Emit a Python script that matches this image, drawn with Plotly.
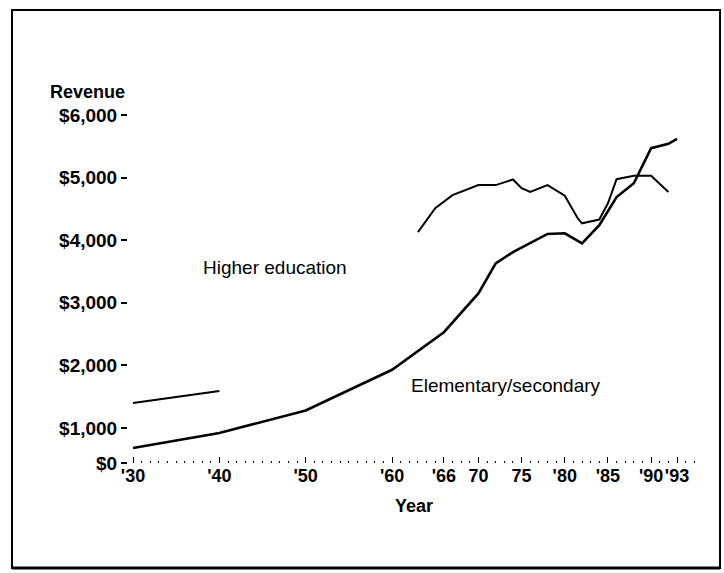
import plotly.graph_objects as go

# Elementary/secondary revenue per student (constant dollars)
es_years = [1930, 1940, 1950, 1960, 1966, 1970, 1972, 1974, 1978, 1980, 1982, 1984, 1986, 1988, 1990, 1992, 1993]
es_values = [680, 920, 1280, 1930, 2530, 3150, 3630, 3810, 4100, 4110, 3950, 4240, 4690, 4910, 5470, 5540, 5620]

# Higher education revenue per student (constant dollars); gap 1940-1963
he_years = [1930, 1940, None, 1963, 1965, 1967, 1970, 1972, 1974, 1975, 1976, 1978, 1980, 1981.5, 1982, 1984, 1985, 1986, 1988, 1990, 1992]
he_values = [1400, 1590, None, 4130, 4510, 4720, 4880, 4880, 4970, 4830, 4770, 4880, 4710, 4350, 4270, 4330, 4590, 4975, 5030, 5030, 4770]

x_tickvals = [1930, 1940, 1950, 1960, 1966, 1970, 1975, 1980, 1985, 1990, 1993]
x_ticktext = ["'30", "'40", "'50", "'60", "'66", "70", "75", "'80", "'85", "'90", "'93"]

# value axis is broken in the source: "$0" sits at the bottom of the plotted range
y_min = 441
y_tickvals = [y_min, 1000, 2000, 3000, 4000, 5000, 6000]
y_ticktext = ["$0", "$1,000", "$2,000", "$3,000", "$4,000", "$5,000", "$6,000"]

FONT = "Liberation Sans"

fig = go.Figure()
fig.add_trace(go.Scatter(x=he_years, y=he_values, mode="lines",
                         line=dict(color="black", width=2), connectgaps=False,
                         name="Higher education", showlegend=False))
fig.add_trace(go.Scatter(x=es_years, y=es_values, mode="lines",
                         line=dict(color="black", width=2.6),
                         name="Elementary/secondary", showlegend=False))

fig.update_layout(
    width=724, height=573,
    margin=dict(l=128, r=24, t=80, b=110),
    paper_bgcolor="white", plot_bgcolor="white",
    font=dict(family=FONT, color="black"),
    xaxis=dict(range=[1929.42, 1995.66], tickvals=x_tickvals, ticktext=x_ticktext,
               tickangle=0,
               showgrid=False, zeroline=False, showline=False,
               ticks="inside", ticklen=6, tickwidth=1, tickcolor="black",
               minor=dict(dtick=1, tick0=1930, ticks="inside", ticklen=2, tickwidth=1, tickcolor="black"),
               tickfont=dict(family=FONT, size=18, color="black", weight="bold"),
               title=dict(text="Year", font=dict(family=FONT, size=18, color="black", weight="bold"),
                          standoff=14)),
    yaxis=dict(range=[y_min, 6559], tickvals=y_tickvals, ticktext=y_ticktext,
               showgrid=False, zeroline=False, showline=False,
               ticks="outside", ticklen=6, tickwidth=1.5, tickcolor="black",
               tickfont=dict(family=FONT, size=19, color="black", weight="bold")),
)

fig.add_annotation(text="Revenue", xref="paper", yref="paper", x=-0.1399, y=0.9687,
                   xanchor="left", yanchor="middle", showarrow=False,
                   font=dict(family=FONT, size=18, color="black", weight="bold"))
fig.add_annotation(text="Higher education", xref="x", yref="y", x=1946.4, y=3556,
                   xanchor="center", yanchor="middle", showarrow=False,
                   font=dict(family=FONT, size=19, color="black"))
fig.add_annotation(text="Elementary/secondary", xref="x", yref="y", x=1973.2, y=1687,
                   xanchor="center", yanchor="middle", showarrow=False,
                   font=dict(family=FONT, size=19, color="black"))

# scanned page frame
fig.add_shape(type="rect", xref="paper", yref="paper", x0=-0.2028, x1=1.035, y0=-0.2742, y1=1.1828,
              line=dict(color="black", width=2))
fig.add_shape(type="line", xref="paper", yref="paper", x0=-0.2028, x1=1.035, y0=-0.2742, y1=-0.2742,
              line=dict(color="black", width=3))

fig.write_html("out.html", config={"displayModeBar": False},
               post_script="document.body.style.margin='0px';document.body.style.overflow='hidden';")
